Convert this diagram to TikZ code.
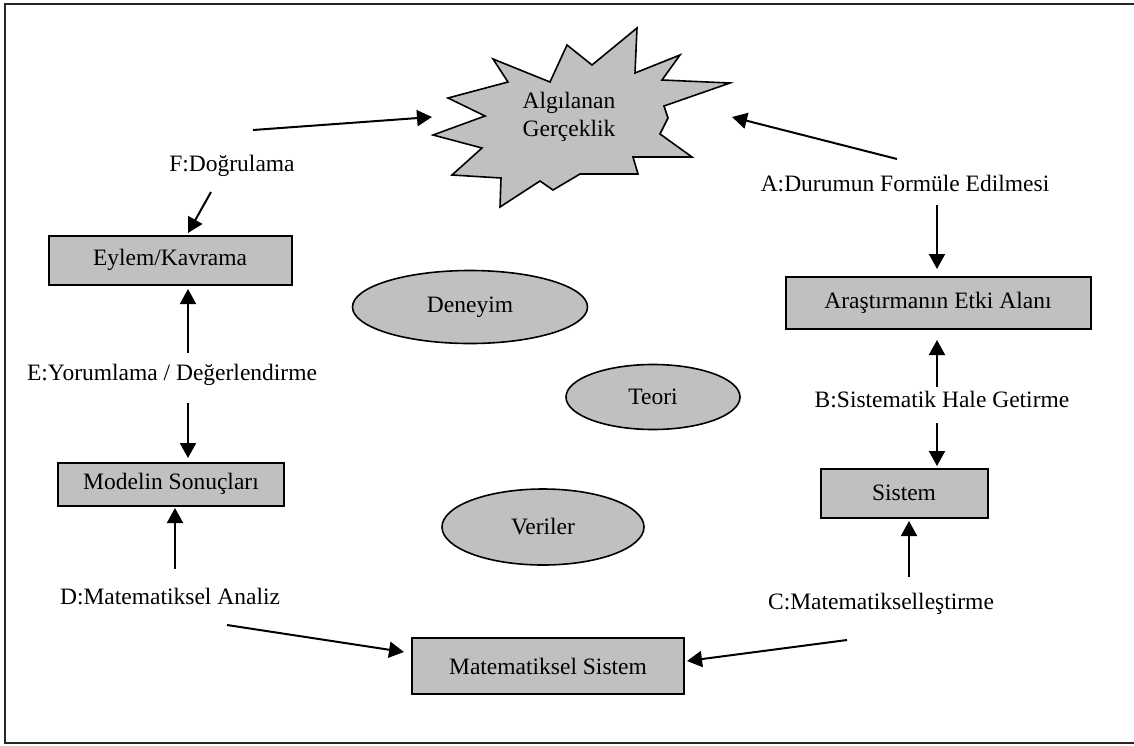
\documentclass[tikz,border=0pt]{standalone}
\usepackage{fontspec}
\setmainfont{Liberation Serif}
\usetikzlibrary{arrows.meta,shapes.geometric}
\definecolor{boxgray}{HTML}{C0C0C0}
\begin{document}
\begin{tikzpicture}[x=1pt,y=-1pt,
  every node/.style={font=\fontsize{23.5}{28}\selectfont, inner sep=0pt},
  box/.style={draw, line width=2pt, fill=boxgray, rectangle},
  oval/.style={draw, line width=1.6pt, fill=boxgray, ellipse},
  lbl/.style={align=center},
  arr/.style={line width=2pt, -{Triangle[length=15pt,width=16pt]}}]
\useasboundingbox (0,0) rectangle (1134,745);

% open frame (top, left, bottom)
\draw[line width=2.4pt, black!85] (1134,4) -- (5,4) -- (5,743) -- (1134,743);

% starburst
\draw[line width=1.6pt, fill=boxgray, line join=miter]
  (493,59) -- (508,82) -- (448,98) -- (485,116) -- (433,135) -- (482,148)
  -- (452,175) -- (501,178) -- (500,207) -- (540,181) -- (553,190)
  -- (580,174) -- (638,174) -- (633,157) -- (692,157) -- (660,134)
  -- (668,118) -- (664,106) -- (730,83) -- (662,80) -- (680,55)
  -- (635,73) -- (637,28) -- (592,65) -- (567,45) -- (550,82) -- cycle;
\node[lbl] (star) at (569,117) {Algılanan\\Gerçeklik};

% boxes
\node[box, minimum width=243pt, minimum height=49pt] (eylem)  at (170,260) {Eylem/Kavrama};
\node[box, minimum width=305pt, minimum height=52pt] (alan)   at (938,303) {Araştırmanın Etki Alanı};
\node[box, minimum width=226pt, minimum height=43pt] (model)  at (171,484) {Modelin Sonuçları};
\node[box, minimum width=272pt, minimum height=56pt] (matsis) at (548,666) {Matematiksel Sistem};
\node[box, minimum width=167pt, minimum height=49pt] (sistem) at (904,493) {Sistem};

% ovals
\node[oval, minimum width=235pt, minimum height=73pt] (deneyim) at (470,307) {Deneyim};
\node[oval, minimum width=174pt, minimum height=65pt] (teori)   at (653,397) {Teori};
\node[oval, minimum width=202pt, minimum height=76pt] (veriler) at (543,527) {Veriler};

% step labels
\node (F) at (232,166) {F:Doğrulama};
\node (A) at (905,184) {A:Durumun Formüle Edilmesi};
\node (E) at (172,375) {E:Yorumlama / Değerlendirme};
\node (B) at (942,400) {B:Sistematik Hale Getirme};
\node (D) at (170,597) {D:Matematiksel Analiz};
\node (C) at (881,604) {C:Matematikselleştirme};

% connector end points
\coordinate (fs)  at (253,130);
\coordinate (ft)  at (432,117);
\coordinate (fd)  at (211,192);
\coordinate (fe)  at (188,233);
\coordinate (as)  at (897,159);
\coordinate (at)  at (732,117);
\coordinate (ad)  at (937,205);
\coordinate (ae)  at (937,269);
\coordinate (bu)  at (937,387);
\coordinate (bue) at (937,340);
\coordinate (bd)  at (937,423);
\coordinate (bde) at (937,466);
\coordinate (cu)  at (909,577);
\coordinate (cue) at (909,521);
\coordinate (cs)  at (847,640);
\coordinate (ce)  at (687,661);
\coordinate (ds)  at (227,625);
\coordinate (de)  at (404,652);
\coordinate (du)  at (175,569);
\coordinate (due) at (175,508);
\coordinate (eu)  at (188,353);
\coordinate (eue) at (188,289);
\coordinate (ed)  at (188,403);
\coordinate (ede) at (188,458);

% connectors
\draw[arr] (fs) -- (ft);
\draw[arr] (fd) -- (fe);
\draw[arr] (as) -- (at);
\draw[arr] (ad) -- (ae);
\draw[arr] (bu) -- (bue);
\draw[arr] (bd) -- (bde);
\draw[arr] (cu) -- (cue);
\draw[arr] (cs) -- (ce);
\draw[arr] (ds) -- (de);
\draw[arr] (du) -- (due);
\draw[arr] (eu) -- (eue);
\draw[arr] (ed) -- (ede);
\end{tikzpicture}
\end{document}
